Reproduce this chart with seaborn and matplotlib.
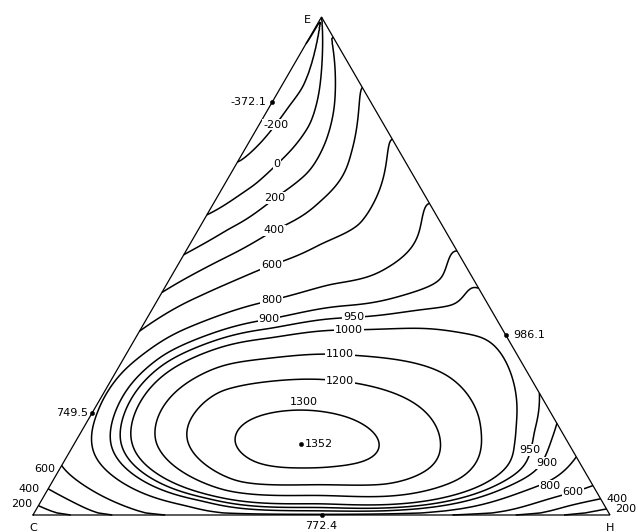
import numpy as np
import pandas as pd
import matplotlib
matplotlib.use("Agg")
import matplotlib.pyplot as plt
import matplotlib.tri as mtri
import seaborn as sns

sns.set_theme(style="white")
plt.rcParams['font.family'] = ['DejaVu Sans']
plt.rcParams['text.color'] = 'black'

# Measured blends: fractions of E and H (C is the remainder) and response
run_E = [0.829, 0.205, 0.361, 0.0, 0.143]
run_H = [0.0, 0.0, 0.639, 0.5, 0.393]
run_val = [-372.1, 749.5, 986.1, 772.4, 1352]
run_text = ["-372.1", "749.5", "986.1", "772.4", "1352"]

# Response traced along the boundaries and through the interior
trace_E = [
    1.0, 0.0, 0.0, 0.995, 0.995, 0.972,
    0.940, 0.683, 0.606, 0.526, 0.446, 0.361, 0.30, 0.096, 0.054, 0.024,
    0.944, 0.873, 0.769, 0.643, 0.542, 0.478, 0.247, 0.181, 0.116, 0.054, 0.034, 0.016,
    0.0, 0.0, 0.0, 0.0, 0.0, 0.0, 0.0, 0.0,
    0.900, 0.833, 0.799, 0.783, 0.739,
    0.934, 0.833, 0.767, 0.707, 0.653,
    0.582, 0.639, 0.677, 0.729, 0.813,
    0.512, 0.576, 0.633, 0.733, 0.833,
    0.436, 0.502, 0.546, 0.576, 0.667, 0.040, 0.036,
    0.371, 0.432, 0.466, 0.498, 0.566, 0.1446, 0.024, 0.060,
    0.331, 0.390, 0.416, 0.458, 0.1446, 0.090, 0.010,
    0.398, 0.418, 0.171, 0.046, 0.1446, 0.016,
    0.367, 0.367, 0.1446, 0.1446, 0.026,
    0.323, 0.1446, 0.1446, 0.285, 0.197, 0.070, 0.040,
    0.269, 0.1446, 0.1446, 0.265, 0.217, 0.084, 0.056, 0.056, 0.064, 0.205, 0.251,
    0.211, 0.1446, 0.1446, 0.094, 0.090, 0.191, 0.197, 0.120,
    0.024, 0.020,
]
trace_H = [
    0.0, 0.0, 1.0, 0.0, 0.005, 0.0,
    0.0, 0.0, 0.0, 0.0, 0.0, 0.0, 0.0, 0.0, 0.0, 0.0,
    0.056, 0.127, 0.231, 0.357, 0.458, 0.522, 0.753, 0.819, 0.884, 0.946, 0.966, 0.984,
    0.064, 0.133, 0.215, 0.330, 0.640, 0.717, 0.844, 0.925,
    0.021, 0.048, 0.046, 0.031, 0.024,
    0.036, 0.081, 0.097, 0.069, 0.055,
    0.050, 0.100, 0.124, 0.133, 0.117,
    0.068, 0.128, 0.181, 0.183, 0.150,
    0.071, 0.163, 0.224, 0.279, 0.271, 0.096, 0.883,
    0.069, 0.198, 0.282, 0.364, 0.388, 0.030, 0.272, 0.866,
    0.060, 0.219, 0.307, 0.489, 0.061, 0.834, 0.492,
    0.338, 0.519, 0.771, 0.752, 0.078, 0.489,
    0.364, 0.557, 0.101, 0.749, 0.484,
    0.370, 0.136, 0.708, 0.575, 0.681, 0.710, 0.477,
    0.397, 0.195, 0.630, 0.192, 0.562, 0.629, 0.585, 0.319, 0.465, 0.187, 0.221,
    0.362, 0.275, 0.529, 0.398, 0.452, 0.281, 0.451, 0.311,
    0.061, 0.912,
]
trace_val = [
    0, 0, 0, -100, 100, -150,
    -200, -200, 0, 200, 400, 600, 800, 600, 400, 200,
    200, 400, 600, 800, 900, 950, 950, 900, 800, 600, 400, 200,
    200, 400, 600, 740, 740, 600, 400, 200,
    -200, -200, -200, -200, -200,
    0, 0, 0, 0, 0,
    200, 200, 200, 200, 200,
    400, 400, 400, 400, 400,
    600, 600, 600, 600, 600, 600, 600,
    800, 800, 800, 800, 800, 800, 800, 800,
    900, 900, 900, 900, 900, 900, 900,
    950, 950, 950, 950, 950, 950,
    1000, 1000, 1000, 1000, 1000,
    1100, 1100, 1100, 1100, 1100, 1100, 1100,
    1200, 1200, 1200, 1200, 1200, 1200, 1200, 1200, 1200, 1200, 1200,
    1300, 1300, 1300, 1300, 1300, 1300, 1300, 1300,
    400, 400,
]

levels = [-200, 0, 200, 400, 600, 800, 900, 950, 1000, 1100, 1200, 1300]


def to_sr(E, H):
    """E fraction on a square-root scale, and the H share of the non-E part."""
    E = np.asarray(E, float)
    H = np.asarray(H, float)
    rest = 1.0 - E
    safe = np.where(rest > 1e-9, rest, 1.0)
    r = np.where(rest > 1e-9, H / safe, 0.5)
    return np.column_stack([np.sqrt(E), r])


def tps_kernel(d):
    with np.errstate(divide="ignore", invalid="ignore"):
        k = d * d * np.log(d)
    return np.nan_to_num(k)


# smoothing thin-plate spline through the traced response
P = to_sr(np.r_[trace_E, run_E], np.r_[trace_H, run_H])
y = np.r_[trace_val, run_val].astype(float)
m = len(y)
K = tps_kernel(np.linalg.norm(P[:, None, :] - P[None, :, :], axis=-1))
Q = np.column_stack([np.ones(m), P])
lam = 1.4e-2
M = np.block([[K + lam * np.eye(m), Q], [Q.T, np.zeros((3, 3))]])
sol = np.linalg.solve(M, np.r_[y, np.zeros(3)])
wts, aff = sol[:m], sol[m:]


def surface(E, H):
    X = to_sr(E, H)
    Kx = tps_kernel(np.linalg.norm(X[:, None, :] - P[None, :, :], axis=-1))
    return Kx @ wts + aff[0] + X @ aff[1:]


# evaluation lattice over the simplex
n = 240
ii, jj = np.meshgrid(np.arange(n + 1), np.arange(n + 1), indexing="ij")
mask = ii + jj <= n
gE = ii[mask] / n
gH = jj[mask] / n
gu = gH + 0.5 * gE
gv = gE
gz = surface(gE, gH)
tri = mtri.Triangulation(gu, gv)

fig = plt.figure(figsize=(6.38, 5.32), dpi=100)
ax = fig.add_axes([0, 0, 1, 1])
ax.set_xlim(-33 / 577, 605 / 577)
ax.set_ylim(-17 / 498, 515 / 498)
ax.axis("off")

ax.plot([0, 1, 0.5, 0], [0, 0, 1, 0], color="black", lw=0.9, solid_joinstyle="miter")

cs = ax.tricontour(tri, gz, levels=levels, colors="black", linewidths=1.1,
                   linestyles="solid")

# level labels: snapped to the nearest point of their own contour, or placed as given
label_spots = [
    (-200, 0.423, 0.783, True), (0, 0.423, 0.707, True), (200, 0.416, 0.639, True),
    (400, 0.416, 0.576, True), (600, 0.414, 0.502, True), (800, 0.414, 0.432, True),
    (900, 0.411, 0.390, True), (950, 0.556, 0.400, True), (1000, 0.548, 0.367, True),
    (1100, 0.532, 0.325, True), (1200, 0.532, 0.269, True),
    (950, 0.861, 0.131, False), (900, 0.891, 0.104, False), (800, 0.896, 0.058, False),
    (600, 0.936, 0.046, False),
]
for lev, lx, ly, snap in label_spots:
    segs = cs.allsegs[levels.index(lev)]
    if snap and segs:
        pts = np.vstack(segs)
        k = np.argmin((pts[:, 0] - lx) ** 2 + (pts[:, 1] - ly) ** 2)
        lx, ly = pts[k]
    ax.text(lx, ly, f"{lev}", fontsize=8, ha="center", va="center",
            zorder=4, bbox=dict(facecolor="white", edgecolor="none", pad=0.6))

ax.text(0.469, 0.227, "1300", fontsize=8, ha="center", va="center")

df = pd.DataFrame({"u": np.array(run_H) + 0.5 * np.array(run_E),
                   "v": np.array(run_E), "label": run_text})
sns.scatterplot(data=df, x="u", y="v", color="black", s=10, ax=ax,
                legend=False, zorder=5, edgecolor="black")
offsets = {"-372.1": (-4, 0, "right", "center"),
           "749.5": (-3, 0, "right", "center"),
           "986.1": (5, 0, "left", "center"),
           "772.4": (0, -4, "center", "top"),
           "1352": (3, 0, "left", "center")}
for _, row in df.iterrows():
    dx, dy, ha, va = offsets[row["label"]]
    ax.annotate(row["label"], (row["u"], row["v"]), xytext=(dx, dy),
                textcoords="offset points", ha=ha, va=va, fontsize=8)

# vertex names
ax.text(0.476, 0.994, "E", fontsize=8, ha="center", va="center")
ax.text(0.0, -0.026, "C", fontsize=8, ha="center", va="center")
ax.text(1.0, -0.026, "H", fontsize=8, ha="center", va="center")

# boundary values near the corners
for txt, (lx, ly) in {"600": (0.021, 0.092), "400": (-0.007, 0.052),
                      "200": (-0.019, 0.022)}.items():
    ax.text(lx, ly, txt, fontsize=8, ha="center", va="center")
for txt, (lx, ly) in {"400": (1.012, 0.032), "200": (1.028, 0.012)}.items():
    ax.text(lx, ly, txt, fontsize=8, ha="center", va="center")

fig.savefig("out.png", dpi=100)
